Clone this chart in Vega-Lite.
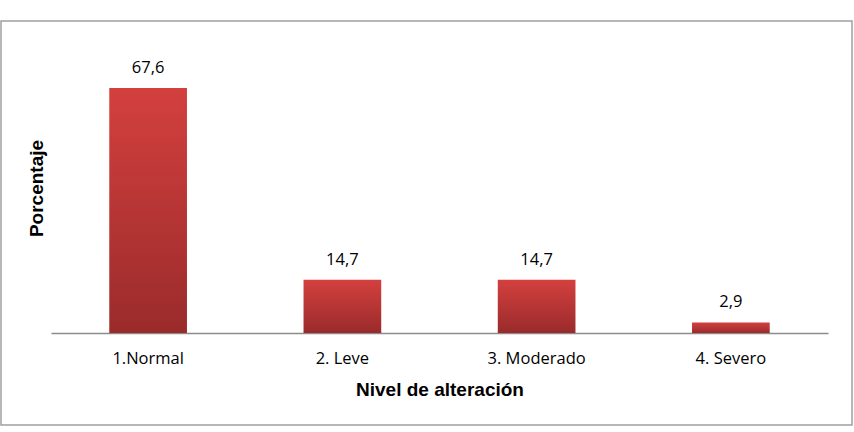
{
  "$schema": "https://vega.github.io/schema/vega-lite/v6.json",
  "autosize": {"type": "none"},
  "width": 851,
  "height": 404,
  "padding": {"left": 1, "top": 21, "right": 2, "bottom": 7},
  "background": "white",
  "config": {
    "view": {"stroke": "#a0a0a0", "strokeWidth": 1.5},
    "font": "Open Sans"
  },
  "data": {
    "values": [
      {"nivel": "1.Normal", "porcentaje": 67.6, "etiqueta": "67,6"},
      {"nivel": "2. Leve", "porcentaje": 14.7, "etiqueta": "14,7"},
      {"nivel": "3. Moderado", "porcentaje": 14.7, "etiqueta": "14,7"},
      {"nivel": "4. Severo", "porcentaje": 2.9, "etiqueta": "2,9"}
    ]
  },
  "encoding": {
    "x": {
      "field": "nivel",
      "type": "nominal",
      "sort": null,
      "scale": {"range": [50, 827], "paddingInner": 0.6, "paddingOuter": 0.3},
      "axis": {
        "title": "Nivel de alteración",
        "titleFont": "Liberation Sans",
        "titleFontSize": 19,
        "titleFontWeight": "bold",
        "titleColor": "#000000",
        "titlePadding": 14,
        "labelAngle": 0,
        "labelFont": "Open Sans",
        "labelFontSize": 16.5,
        "labelColor": "#000000",
        "labelPadding": 17,
        "ticks": false,
        "domainColor": "#8c8c8c",
        "domainWidth": 1.5,
        "offset": -92,
        "grid": false
      }
    },
    "y": {
      "field": "porcentaje",
      "type": "quantitative",
      "scale": {"domain": [0, 80], "range": [312, 22]},
      "axis": {
        "title": "Porcentaje",
        "titleFont": "Liberation Sans",
        "titleFontSize": 19,
        "titleFontWeight": "bold",
        "titleColor": "#000000",
        "titlePadding": 5,
        "labels": false,
        "ticks": false,
        "domain": false,
        "grid": false,
        "offset": -50
      }
    }
  },
  "layer": [
    {
      "mark": {
        "type": "bar",
        "color": {
          "gradient": "linear",
          "x1": 0, "y1": 0, "x2": 0, "y2": 1,
          "stops": [
            {"offset": 0, "color": "#d3403e"},
            {"offset": 1, "color": "#9a2b2b"}
          ]
        }
      }
    },
    {
      "mark": {
        "type": "text",
        "baseline": "bottom",
        "dy": -12,
        "fontSize": 16.5,
        "color": "#000000"
      },
      "encoding": {"text": {"field": "etiqueta"}}
    }
  ]
}
